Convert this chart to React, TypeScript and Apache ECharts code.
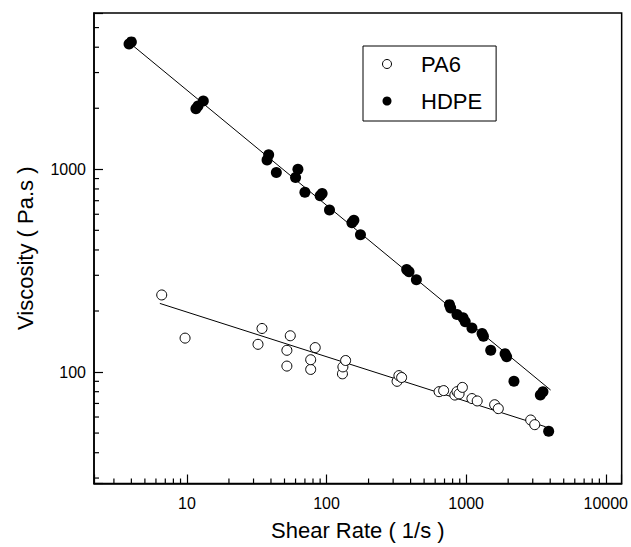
import React, { useEffect, useRef } from "react";
import * as echarts from "echarts";

// Axis ranges (log axes)
const xRange = [2.16, 13000];
const yRange = [28.2, 5900];

// Tick labels (major, decades)
const xTickLabels = ["10", "100", "1000", "10000"];
const yTickLabels = ["100", "1000"];

// Minor tick values
const minorMultipliers = [2, 3, 4, 5, 6, 7, 8, 9];
const xDecades = [1, 10, 100, 1000, 10000];
const yDecades = [10, 100, 1000];

// PA6 (open circles)
const pa6X = [6.6, 9.7, 32.3, 34.5, 52, 52, 55, 77, 77, 83, 130, 131, 137, 320, 330, 345, 640, 690, 830, 860, 890, 940, 1100, 1200, 1600, 1700, 2900, 3100];
const pa6Y = [240, 147, 137, 164, 107, 128, 151, 103, 115, 132, 98, 106, 114, 90, 96, 94, 80, 81, 77, 80, 78, 84, 74, 72, 69, 66, 58, 55];

// HDPE (filled circles)
const hdpeX = [3.85, 4.0, 11.6, 12.0, 13.1, 37.5, 38.5, 43.7, 60, 62.4, 70, 90, 93, 105, 152, 157, 175, 375, 390, 440, 760, 775, 860, 950, 985, 1100, 1300, 1330, 1500, 1900, 1950, 2200, 3400, 3550, 3900];
const hdpeY = [4150, 4250, 1990, 2050, 2170, 1110, 1180, 965, 910, 1000, 770, 740, 760, 630, 545, 560, 475, 320, 312, 285, 215, 207, 192, 185, 177, 165, 155, 150, 128, 123, 119, 90, 77, 80, 51];

// Power-law fit lines (end points)
const pa6FitX = [6.4, 3710];
const pa6FitY = [218, 53.7];
const hdpeFitX = [3.92, 4030];
const hdpeFitY = [4180, 81.5];

const FONT = "Liberation Sans, Arial, sans-serif";

function zip(xs: number[], ys: number[]) {
  return xs.map((x, i) => [x, ys[i]]);
}

function minorValues(decades: number[], lo: number, hi: number) {
  const out: number[] = [];
  decades.forEach((d) => minorMultipliers.forEach((m) => {
    const v = d * m;
    if (v > lo && v < hi) out.push(v);
  }));
  return out;
}

function isDecade(v: number) {
  const l = Math.log10(v);
  return Math.abs(l - Math.round(l)) < 1e-6;
}

export default function App() {
  const ref = useRef<HTMLDivElement>(null);
  useEffect(() => {
    if (!ref.current) return;
    const chart = echarts.init(ref.current, null, { renderer: "svg" });
    const xMinor = minorValues(xDecades, xRange[0], xRange[1]);
    const yMinor = minorValues(yDecades, yRange[0], yRange[1]);

    const labelFmt = (allowed: string[]) => (v: number) => {
      if (!isDecade(v)) return "";
      const s = String(Math.round(v));
      return allowed.includes(s) ? s : "";
    };

    chart.setOption({
      animation: false,
      backgroundColor: "#fff",
      grid: {
        left: 94,
        top: 13,
        right: 8.5,
        bottom: 63.5,
        show: true,
        borderColor: "#000",
        borderWidth: 1.5,
        backgroundColor: "transparent",
      },
      legend: {
        orient: "vertical",
        left: 363,
        top: 46,
        itemWidth: 58,
        itemHeight: 9,
        itemGap: 13,
        padding: [6, 14, 8, 19],
        borderColor: "#000",
        borderWidth: 1,
        backgroundColor: "#fff",
        itemStyle: { borderWidth: 1, opacity: 1 },
        textStyle: { fontFamily: FONT, fontSize: 22, color: "#000", lineHeight: 24 },
        data: ["PA6", "HDPE"],
      },
      xAxis: {
        type: "log",
        logBase: 10,
        min: xRange[0],
        max: xRange[1],
        name: "Shear Rate ( 1/s )",
        nameLocation: "middle",
        nameGap: 36,
        nameTextStyle: { fontFamily: FONT, fontSize: 22, color: "#000" },
        axisLine: { lineStyle: { color: "#000", width: 1.5 } },
        axisTick: { inside: true, length: 9, lineStyle: { color: "#000", width: 1.2 } },
        axisLabel: {
          margin: 12,
          fontFamily: FONT,
          fontSize: 16,
          color: "#000",
          formatter: labelFmt(xTickLabels),
        },
        splitLine: { show: false },
      },
      yAxis: {
        type: "log",
        logBase: 10,
        min: yRange[0],
        max: yRange[1],
        name: "Viscosity ( Pa.s )",
        nameLocation: "middle",
        nameGap: 58,
        nameTextStyle: { fontFamily: FONT, fontSize: 22, color: "#000" },
        axisLine: { lineStyle: { color: "#000", width: 1.5 } },
        axisTick: { inside: true, length: 9, lineStyle: { color: "#000", width: 1.2 } },
        axisLabel: {
          margin: 8,
          fontFamily: FONT,
          fontSize: 16,
          color: "#000",
          formatter: labelFmt(yTickLabels),
        },
        splitLine: { show: false },
      },
      series: [
        {
          name: "PA6 fit",
          type: "line",
          data: zip(pa6FitX, pa6FitY),
          symbol: "none",
          lineStyle: { color: "#000", width: 1 },
          silent: true,
          z: 1,
        },
        {
          name: "HDPE fit",
          type: "line",
          data: zip(hdpeFitX, hdpeFitY),
          symbol: "none",
          lineStyle: { color: "#000", width: 1 },
          silent: true,
          z: 1,
        },
        {
          name: "PA6",
          type: "scatter",
          data: zip(pa6X, pa6Y),
          symbol: "circle",
          symbolSize: 10,
          itemStyle: { color: "#fff", borderColor: "#000", borderWidth: 1, opacity: 1 },
          z: 3,
        },
        {
          name: "HDPE",
          type: "scatter",
          data: zip(hdpeX, hdpeY),
          symbol: "circle",
          symbolSize: 11,
          itemStyle: { color: "#000", opacity: 1 },
          z: 4,
        },
        {
          name: "xMinor",
          type: "custom",
          silent: true,
          clip: false,
          z: 10,
          data: xMinor.map((v) => [v, 100]),
          renderItem: (params: any, api: any) => {
            const cs = params.coordSys;
            const p = api.coord([api.value(0), 100]);
            const yb = cs.y + cs.height;
            return {
              type: "line",
              shape: { x1: p[0], y1: yb, x2: p[0], y2: yb - 5 },
              style: { stroke: "#000", lineWidth: 1.2 },
            };
          },
        },
        {
          name: "yMinor",
          type: "custom",
          silent: true,
          clip: false,
          z: 10,
          data: yMinor.map((v) => [100, v]),
          renderItem: (params: any, api: any) => {
            const cs = params.coordSys;
            const p = api.coord([100, api.value(1)]);
            return {
              type: "line",
              shape: { x1: cs.x, y1: p[1], x2: cs.x + 5, y2: p[1] },
              style: { stroke: "#000", lineWidth: 1.2 },
            };
          },
        },
      ],
    });
    return () => chart.dispose();
  }, []);
  return (
    <div
      ref={ref}
      style={{ position: "absolute", left: 0, top: 0, width: 631, height: 547 }}
    />
  );
}
